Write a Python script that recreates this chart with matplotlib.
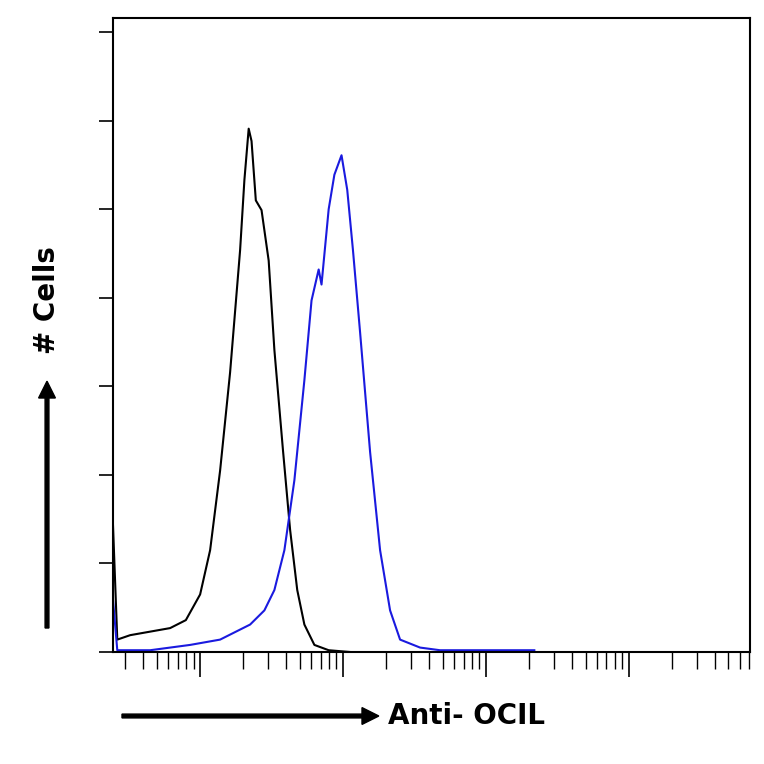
import numpy as np
import matplotlib
matplotlib.use("Agg")
import matplotlib.pyplot as plt

# (pixel-read) log10 intensity and counts
black_x = [0.39,0.42,0.51,0.65,0.79,0.90,1.00,1.07,1.14,1.21,1.28,1.31,1.34,1.36,1.39,1.43,1.48,1.52,1.58,1.63,1.68,1.73,1.80,1.90,2.05]
black_y = [1.43,0.14,0.19,0.23,0.27,0.36,0.65,1.15,2.05,3.16,4.54,5.33,5.91,5.77,5.10,4.99,4.42,3.41,2.28,1.38,0.70,0.31,0.08,0.02,0.0]
blue_x = [0.39,0.42,0.65,0.93,1.14,1.35,1.45,1.52,1.59,1.66,1.73,1.78,1.83,1.85,1.90,1.94,1.99,2.03,2.07,2.12,2.19,2.26,2.33,2.40,2.54,2.68,3.34]
blue_y = [0.59,0.02,0.02,0.08,0.14,0.31,0.47,0.70,1.15,1.94,3.07,3.97,4.32,4.15,5.00,5.39,5.61,5.22,4.54,3.61,2.26,1.15,0.47,0.14,0.05,0.02,0.02]

fig = plt.figure(figsize=(7.64,7.64), dpi=100)
ax = fig.add_axes([113/764, 1-652/764, 637/764, 634/764])
ax.plot(10**np.array(black_x), black_y, color='black', lw=1.5)
ax.plot(10**np.array(blue_x), blue_y, color='#1a1adf', lw=1.5)
ax.set_xscale('log')
ax.set_xlim(10**0.39, 10**4.85)
ax.set_ylim(0, 7.16)
ax.set_yticks(range(0, 8))
ax.set_yticklabels([])
ax.xaxis.set_major_locator(matplotlib.ticker.LogLocator(base=10, numticks=10))
ax.xaxis.set_minor_locator(matplotlib.ticker.LogLocator(base=10, subs=np.arange(2,10), numticks=20))
ax.xaxis.set_major_formatter(matplotlib.ticker.NullFormatter())
ax.xaxis.set_minor_formatter(matplotlib.ticker.NullFormatter())
ax.tick_params(axis='x', which='major', length=18, width=1.2, direction='out')
ax.tick_params(axis='x', which='minor', length=12, width=1, direction='out')
ax.tick_params(axis='y', length=10, width=1.2, direction='out')
for s in ax.spines.values():
    s.set_linewidth(1.5)

fig.patches.append(matplotlib.patches.FancyArrow(122/764, 1-716/764, 240/764, 0, width=0.005, head_width=0.022, head_length=0.022, color='black', transform=fig.transFigure, length_includes_head=False))
fig.patches.append(matplotlib.patches.FancyArrow(47/764, 1-628/764, 0, 230/764, width=0.005, head_width=0.022, head_length=0.022, color='black', transform=fig.transFigure))
fig.text(388/764, 1-716/764, 'Anti- OCIL', fontsize=20, fontweight='bold', va='center', ha='left')
fig.text(47/764, 1-300/764, '# Cells', fontsize=20, fontweight='bold', va='center', ha='center', rotation=90)
fig.savefig('out.png', dpi=100)
